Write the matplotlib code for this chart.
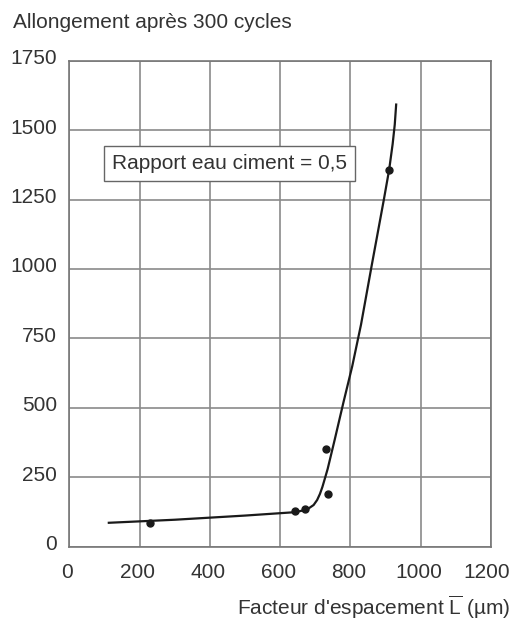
import matplotlib
matplotlib.use('Agg')
import matplotlib.pyplot as plt
import matplotlib.transforms as mtransforms

plt.rcParams['font.family'] = ['Liberation Sans', 'DejaVu Sans']
plt.rcParams['mathtext.fontset'] = 'custom'
plt.rcParams['mathtext.rm'] = 'Liberation Sans'

# measured points
pts_x = [230, 643, 671, 729, 735, 910]
pts_y = [85, 128, 136, 350, 188, 1357]

# hand-drawn fitted curve
curve_x = [112, 300, 500, 640, 660, 680, 695, 705, 713, 720, 727, 735,
           755, 780, 805, 830, 860, 895, 910, 920, 926, 930]
curve_y = [86, 97, 112, 124, 129, 137, 150, 168, 190, 215, 245, 280,
           385, 520, 650, 800, 1010, 1250, 1357, 1450, 1520, 1592]

x_ticks = [0, 200, 400, 600, 800, 1000, 1200]
y_ticks = [0, 250, 500, 750, 1000, 1250, 1500, 1750]

txt = '#333333'
grid = '#8a8a8a'

fig = plt.figure(figsize=(5.12, 6.21), dpi=100)
ax = fig.add_axes([0.1357, 0.1197, 0.8233, 0.7826])

ax.plot(curve_x, curve_y, color='#1a1a1a', linewidth=1.6, zorder=3)
ax.plot(pts_x, pts_y, 'o', color='#1a1a1a', markersize=5, zorder=4)

ax.set_xlim(0, 1200)
ax.set_ylim(0, 1750)
ax.set_xticks(x_ticks)
ax.set_yticks(y_ticks)
ax.grid(True, color=grid, linewidth=1.2)
ax.set_axisbelow(True)
for s in ax.spines.values():
    s.set_color('#777777')
    s.set_linewidth(1.2)
ax.tick_params(length=0, labelsize=15, labelcolor=txt)
ax.tick_params(axis='y', pad=9)
ax.tick_params(axis='x', pad=12)

# nudge y labels up a bit, x labels slightly left
off = mtransforms.ScaledTranslation(0, 4 / 100, fig.dpi_scale_trans)
for lab in ax.get_yticklabels():
    lab.set_transform(lab.get_transform() + off)
xlabs = ax.get_xticklabels()
for i, lab in enumerate(xlabs):
    dx = -2 if i < len(xlabs) - 1 else -4
    lab.set_transform(lab.get_transform() +
                      mtransforms.ScaledTranslation(dx / 100, 0, fig.dpi_scale_trans))

ax.text(455, 1380, 'Rapport eau ciment = 0,5', fontsize=15, color=txt,
        ha='center', va='center', zorder=5,
        bbox=dict(boxstyle='square,pad=0.38', facecolor='white',
                  edgecolor='#666666', linewidth=1))

fig.text(0.025, 1 - 22 / 621, 'Allongement après 300 cycles', fontsize=15,
         color=txt, ha='left', va='center')
fig.text(0.996, 1 - 607 / 621, r"Facteur d'espacement $\overline{\mathrm{L}}$ (µm)",
         fontsize=15, color=txt, ha='right', va='center')

fig.savefig('out.png', dpi=100)
